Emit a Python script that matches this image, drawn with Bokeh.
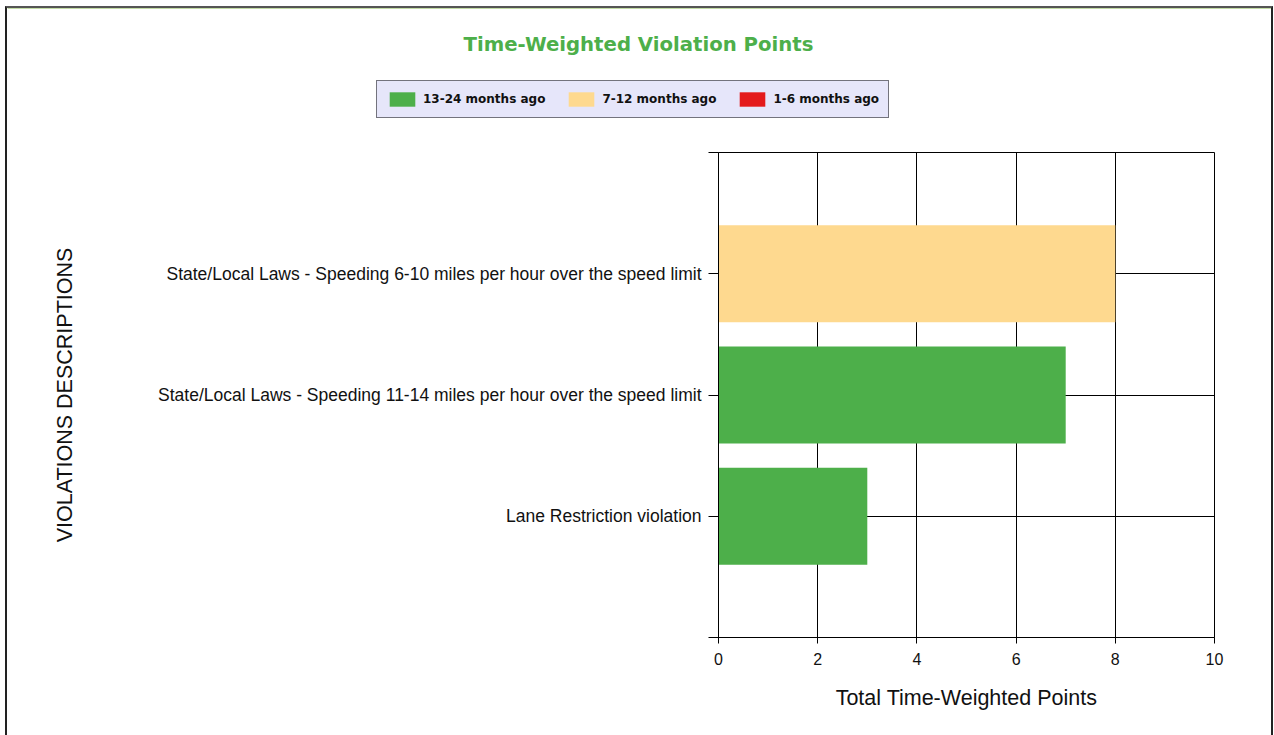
from bokeh.plotting import figure
from bokeh.layouts import column
from bokeh.models import ColumnDataSource, Range1d, FixedTicker, Legend, LegendItem, Label
from bokeh.embed import file_html
from bokeh.resources import INLINE

# ---- data ----
categories = [
    "Lane Restriction violation",
    "State/Local Laws - Speeding 11-14 miles per hour over the speed limit",
    "State/Local Laws - Speeding 6-10 miles per hour over the speed limit",
]
positions = [1, 2, 3]
series = ["13-24 months ago", "7-12 months ago", "1-6 months ago"]
months_13_24 = [3, 7, 0]
months_7_12 = [0, 0, 8]
months_1_6 = [0, 0, 0]
colors = ["#4DAF4A", "#FED98F", "#E41A1C"]
x_ticks = [0, 2, 4, 6, 8, 10]
y_ticks = [0, 1, 2, 3, 4]

title_text = "Time-Weighted Violation Points"
x_title = "Total Time-Weighted Points"
y_title = "VIOLATIONS DESCRIPTIONS"

source = ColumnDataSource(dict(pos=positions, s1=months_13_24, s2=months_7_12, s3=months_1_6))

# ---- header (title + legend) ----
# the header's ranges lie away from the data, so its stacked bars only feed the legend keys
top = figure(width=1264, height=140, x_range=Range1d(0, 1), y_range=Range1d(-3, -2),
             output_backend="svg", toolbar_location=None,
             min_border=0, min_border_left=0, min_border_right=0,
             min_border_top=0, min_border_bottom=0)
top.frame_align = False
top.xaxis.visible = False
top.yaxis.visible = False
top.grid.visible = False
top.outline_line_color = None
top.border_fill_color = "white"
top.background_fill_color = "white"

top.add_layout(Label(x=631, y=104, x_units="screen", y_units="screen", text=title_text,
                     text_align="center", text_baseline="middle", text_font="DejaVu Sans",
                     text_font_style="bold", text_font_size="19.7px", text_color="#4DAF4A"))

key_renderers = top.hbar_stack(["s1", "s2", "s3"], y="pos", height=0.8, fill_color=colors,
                               line_color=None, source=source)
legend = Legend(
    items=[LegendItem(label=s, renderers=[r]) for s, r in zip(series, key_renderers)],
    orientation="horizontal", location=(369, 30),
    background_fill_color="#E6E6FA", background_fill_alpha=1.0,
    border_line_color="black", border_line_width=1,
    glyph_width=32, glyph_height=18, label_standoff=5, spacing=20,
    padding=9, margin=0,
    label_text_font="DejaVu Sans", label_text_font_style="bold",
    label_text_font_size="12px", label_text_color="#111111",
)
top.add_layout(legend)

# ---- main chart ----
p = figure(
    frame_width=496, frame_height=485,
    x_range=Range1d(0, 10), y_range=Range1d(0, 4),
    output_backend="svg", toolbar_location=None,
    min_border_left=711, min_border_right=57, min_border_top=4, min_border_bottom=98,
)
p.frame_align = False

rs = p.hbar_stack(["s1", "s2", "s3"], y="pos", height=0.8, fill_color=colors,
                  line_color=None, source=source)

p.xaxis.ticker = FixedTicker(ticks=x_ticks)
p.yaxis.ticker = FixedTicker(ticks=y_ticks)
p.yaxis.major_label_overrides = {0: "", 4: "", **dict(zip(positions, categories))}
for ax in (p.xaxis, p.yaxis):
    ax.axis_line_color = "black"
    ax.major_tick_line_color = "black"
    ax.minor_tick_line_color = None
    ax.major_tick_in = 0
    ax.major_label_text_color = "#111111"
    ax.major_label_text_font = "Liberation Sans"
    ax.axis_label_text_font = "Liberation Sans"
    ax.axis_label_text_font_style = "normal"
    ax.axis_label_text_color = "#111111"
    ax.axis_label_text_font_size = "21.5px"

p.xaxis.major_tick_out = 6
p.xaxis.major_label_text_font_size = "16px"
p.xaxis.major_label_standoff = 9
p.xaxis.axis_label = x_title
p.xaxis.axis_label_standoff = 18

p.yaxis.major_tick_out = 10
p.yaxis.major_label_text_font_size = "17.5px"
p.yaxis.major_label_standoff = 7
p.yaxis.axis_label = y_title
p.yaxis.axis_label_standoff = 78

p.xgrid.ticker = FixedTicker(ticks=x_ticks)
p.ygrid.ticker = FixedTicker(ticks=positions)
p.xgrid.grid_line_color = "black"
p.ygrid.grid_line_color = "black"
p.outline_line_color = "black"
p.background_fill_color = "white"
p.border_fill_color = "white"

page = column(top, p, spacing=0)
page.styles = {"border-top": "2px solid #555", "border-left": "2px solid #222",
               "border-right": "2px solid #222", "margin-left": "5px", "margin-top": "6px"}

open("out.html", "w").write(file_html(page, INLINE))
